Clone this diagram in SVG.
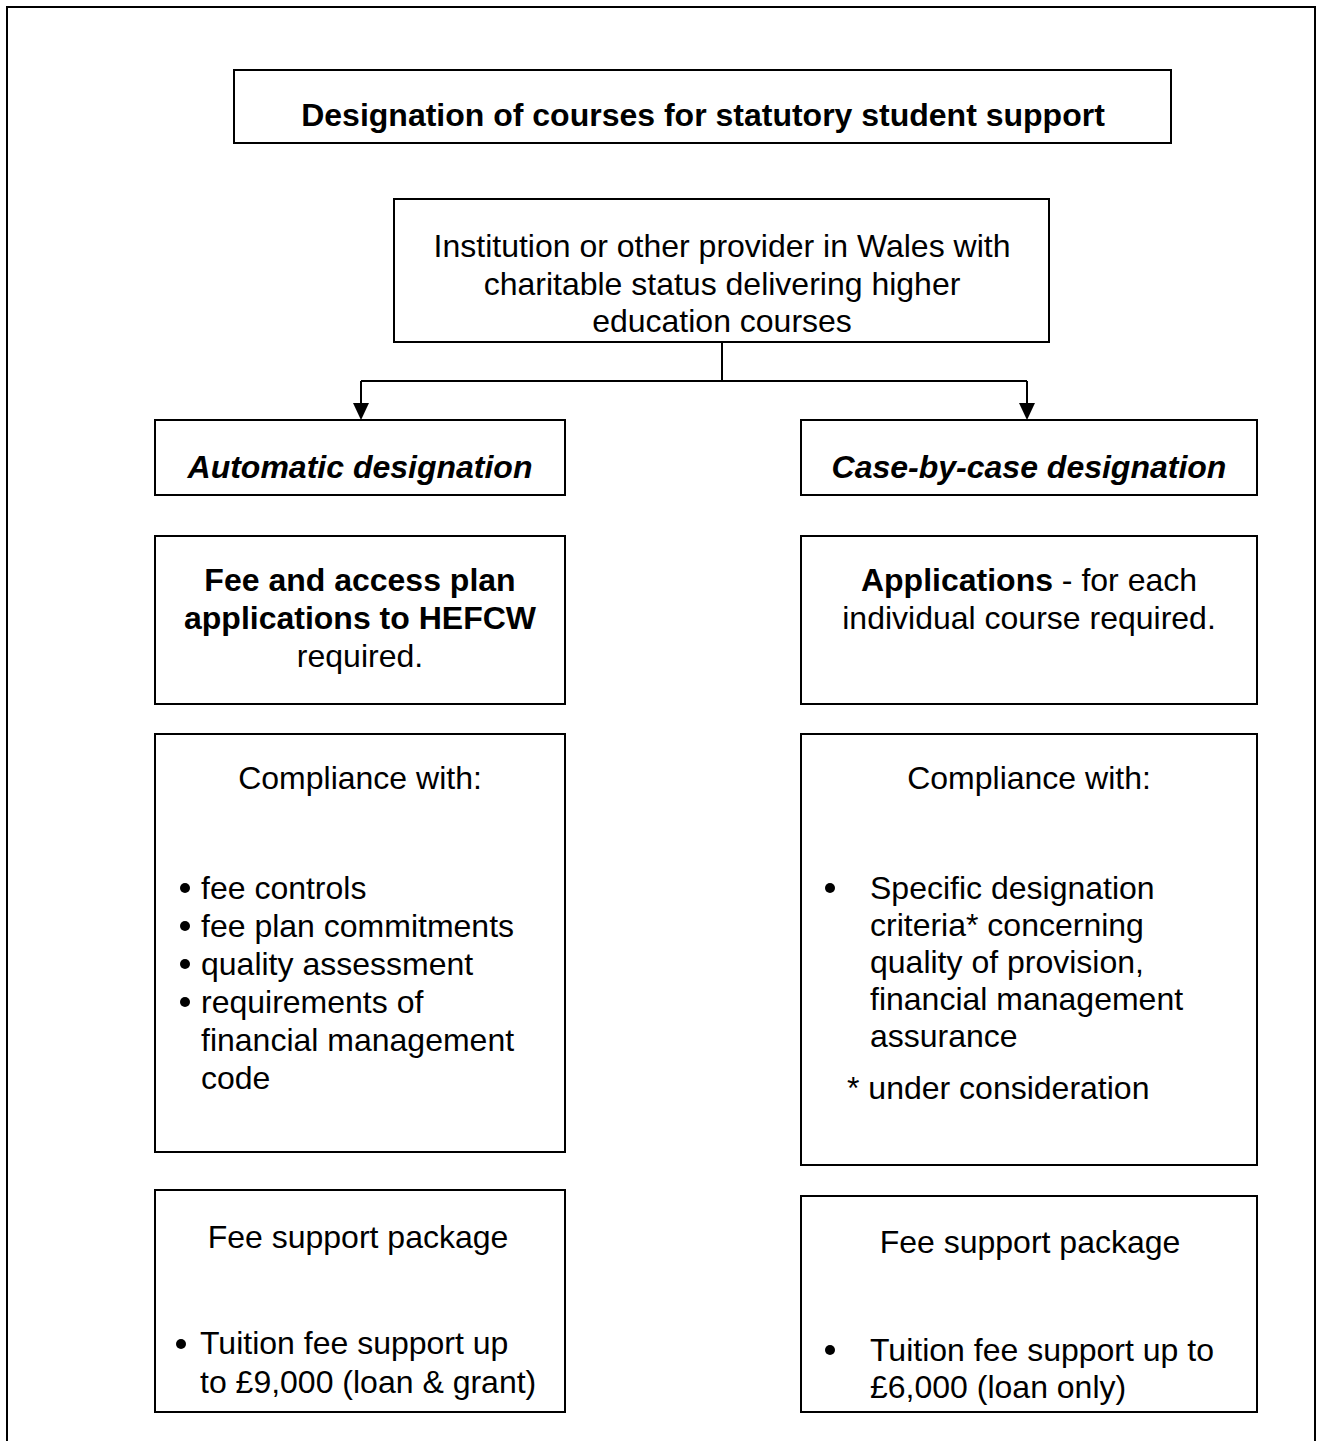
<svg xmlns="http://www.w3.org/2000/svg" width="1322" height="1441" viewBox="0 0 1322 1441">
<style>
.box{fill:#fff;stroke:#000;stroke-width:2}
.t{font-family:"Liberation Sans",Arial,sans-serif;font-size:32px;fill:#000}
.c{text-anchor:middle}
.b{font-weight:bold}
.bi{font-weight:bold;font-style:italic}
.ln{fill:none;stroke:#000;stroke-width:2}
.ah{fill:#000}
</style>
<rect width="1322" height="1441" fill="#fff"/>
<path class="ln" d="M7,1441 V7 H1315 V1441"/>

<g id="title">
<rect class="box" x="234" y="70" width="937" height="73"/>
<text class="t b c" x="703" y="126">Designation of courses for statutory student support</text>
</g>

<g id="institution">
<rect class="box" x="394" y="199" width="655" height="143"/>
<text class="t c" x="722" y="257">Institution or other provider in Wales with</text>
<text class="t c" x="722" y="295">charitable status delivering higher</text>
<text class="t c" x="722" y="332">education courses</text>
</g>

<g id="connectors">
<path class="ln" d="M722,342 V381 M361,381 H1027 M361,381 V405 M1027,381 V405"/>
<path class="ah" d="M353,403 L369,403 L361,420 Z"/>
<path class="ah" d="M1019,403 L1035,403 L1027,420 Z"/>
</g>

<g id="automatic">
<rect class="box" x="155" y="420" width="410" height="75"/>
<text class="t bi c" x="360" y="478">Automatic designation</text>
</g>

<g id="casebycase">
<rect class="box" x="801" y="420" width="456" height="75"/>
<text class="t bi c" x="1029" y="478">Case-by-case designation</text>
</g>

<g id="fee-access">
<rect class="box" x="155" y="536" width="410" height="168"/>
<text class="t b c" x="360" y="591">Fee and access plan</text>
<text class="t b c" x="360" y="629">applications to HEFCW</text>
<text class="t c" x="360" y="667">required.</text>
</g>

<g id="applications">
<rect class="box" x="801" y="536" width="456" height="168"/>
<text class="t c" x="1029" y="591"><tspan class="b">Applications</tspan> - for each</text>
<text class="t c" x="1029" y="629">individual course required.</text>
</g>

<g id="compliance-left">
<rect class="box" x="155" y="734" width="410" height="418"/>
<text class="t c" x="360" y="789">Compliance with:</text>
<circle cx="185" cy="888" r="5"/>
<text class="t" x="201" y="899">fee controls</text>
<circle cx="185" cy="926" r="5"/>
<text class="t" x="201" y="937">fee plan commitments</text>
<circle cx="185" cy="964" r="5"/>
<text class="t" x="201" y="975">quality assessment</text>
<circle cx="185" cy="1002" r="5"/>
<text class="t" x="201" y="1013">requirements of</text>
<text class="t" x="201" y="1051">financial management</text>
<text class="t" x="201" y="1089">code</text>
</g>

<g id="compliance-right">
<rect class="box" x="801" y="734" width="456" height="431"/>
<text class="t c" x="1029" y="789">Compliance with:</text>
<circle cx="830" cy="888" r="5"/>
<text class="t" x="870" y="899">Specific designation</text>
<text class="t" x="870" y="936">criteria* concerning</text>
<text class="t" x="870" y="973">quality of provision,</text>
<text class="t" x="870" y="1010">financial management</text>
<text class="t" x="870" y="1047">assurance</text>
<text class="t" x="847" y="1099">* under consideration</text>
</g>

<g id="fee-support-left">
<rect class="box" x="155" y="1190" width="410" height="222"/>
<text class="t c" x="358" y="1248">Fee support package</text>
<circle cx="181" cy="1344" r="5"/>
<text class="t" x="200" y="1354">Tuition fee support up</text>
<text class="t" x="200" y="1393">to £9,000 (loan &amp; grant)</text>
</g>

<g id="fee-support-right">
<rect class="box" x="801" y="1196" width="456" height="216"/>
<text class="t c" x="1030" y="1253">Fee support package</text>
<circle cx="830" cy="1350" r="5"/>
<text class="t" x="870" y="1361">Tuition fee support up to</text>
<text class="t" x="870" y="1398">£6,000 (loan only)</text>
</g>
</svg>
